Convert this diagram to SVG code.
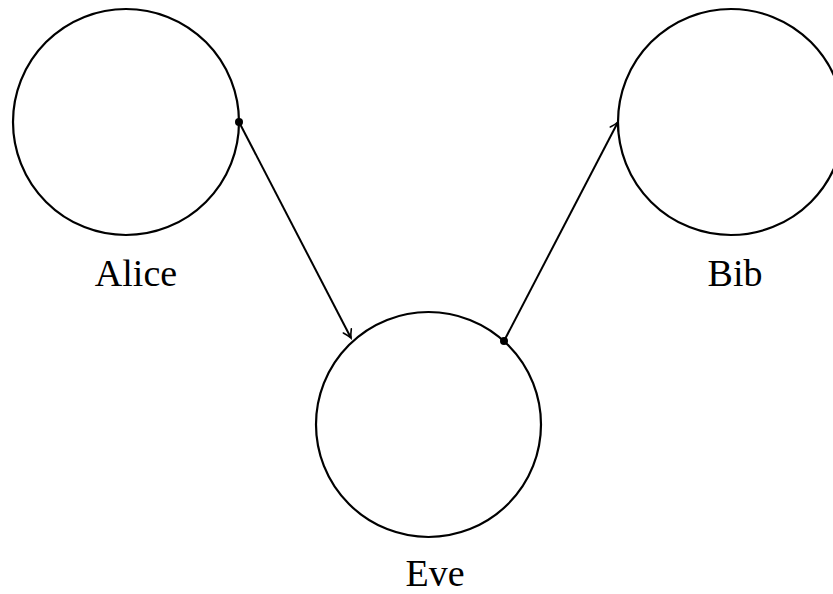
<svg xmlns="http://www.w3.org/2000/svg" width="833" height="594" viewBox="0 0 833 594">
<style>
.node{fill:none;stroke:#000;stroke-width:2.2}
.lbl{font-family:"Liberation Serif","Times New Roman",serif;font-size:38px;fill:#000;text-anchor:middle}
.edge{stroke:#000;stroke-width:2;fill:none}
</style>
<defs>
<marker id="arr" viewBox="-10 -6 12 12" refX="0" refY="0" markerWidth="12" markerHeight="12" markerUnits="userSpaceOnUse" orient="auto">
<path d="M-8,-4.5 Q-3,-1 0,0 Q-3,1 -8,4.5" fill="none" stroke="#000" stroke-width="1.6" stroke-linecap="round"/>
</marker>
</defs>
<rect width="833" height="594" fill="#fff"/>
<g id="alice"><circle class="node" cx="126" cy="122" r="113"/><text class="lbl" x="136" y="286">Alice</text></g>
<g id="eve"><circle class="node" cx="428.5" cy="424.5" r="112.5"/><text class="lbl" x="435" y="586">Eve</text></g>
<g id="bib"><circle class="node" cx="731" cy="122" r="113"/><text class="lbl" x="735" y="286">Bib</text></g>
<g id="connectors">
<path class="edge" d="M239,122 L351,338" marker-end="url(#arr)"/>
<path class="edge" d="M504,341 L618,122" marker-end="url(#arr)"/>
<circle cx="239" cy="122" r="4" fill="#000"/>
<circle cx="504" cy="341" r="4" fill="#000"/>
</g>
</svg>
